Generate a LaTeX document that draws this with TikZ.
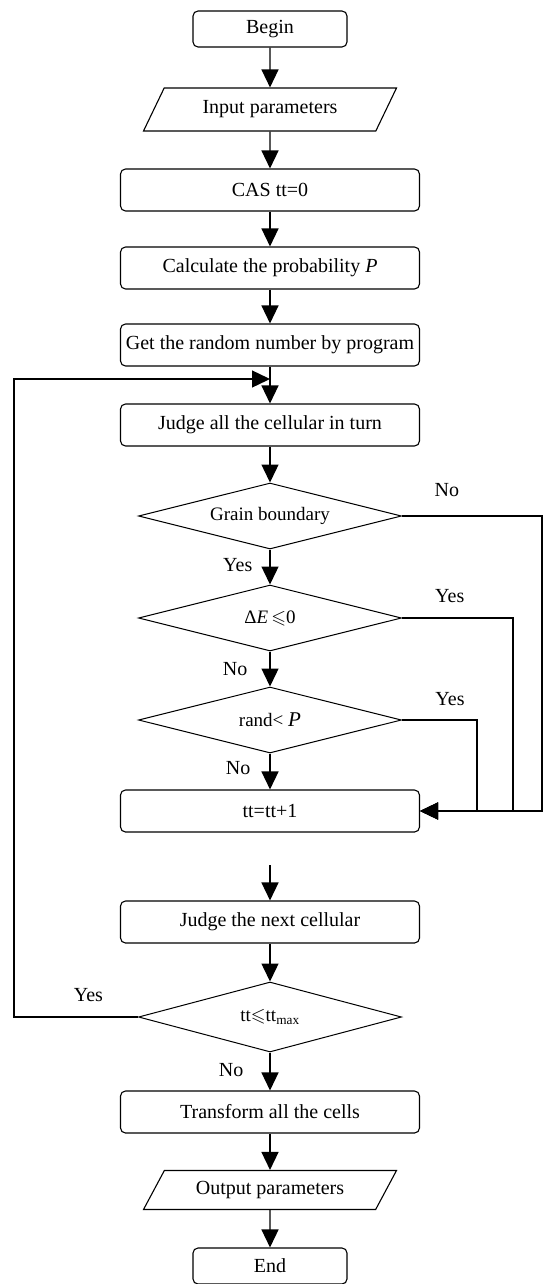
\documentclass[tikz,border=0pt]{standalone}
\usepackage{fontspec}
\setmainfont{Liberation Serif}
\usepackage{amssymb}
\usetikzlibrary{shapes.geometric,arrows.meta,positioning}

\begin{document}
\begin{tikzpicture}
    [
      font=\fontsize{20pt}{22pt}\selectfont,
      >={Triangle[length=18pt,width=17pt]},
      term/.style=
      {
        rounded corners=5pt,
        minimum width=154pt,
        minimum height=36pt,
        inner sep=0pt,
        line width=1.1pt,
        draw,
      },
      proc/.style=
      {
        rounded corners=5pt,
        minimum width=299pt,
        minimum height=42pt,
        inner sep=0pt,
        line width=1.1pt,
        draw,
      },
      io/.style=
      {
        trapezium,
        trapezium left angle=40,
        trapezium right angle=140,
        trapezium stretches body=true,
        minimum width=253pt,
        minimum height=43pt,
        inner sep=0pt,
        line width=1.1pt,
        draw,
      },
      test/.style=
      {
        diamond,
        aspect=4,
        minimum width=263pt,
        minimum height=66pt,
        inner sep=0pt,
        line width=1pt,
        font=\fontsize{19pt}{22pt}\selectfont,
        draw,
      },
      lbl/.style=
      {
        inner sep=0pt,
      },
      flow/.style=
      {
        ->,
        line width=1.4pt,
      }
    ]
    \useasboundingbox (0,0) rectangle (543pt,-1284pt);

    % main column
    \node[term] (start) at (270pt,-29pt) {Begin};
    \node[io, below of=start, node distance=80.5pt] (input) {Input parameters};
    \node[proc, below of=input, node distance=80.5pt] (cas) {CAS tt=0};
    \node[proc, below of=cas, node distance=78pt] (calc)
    {
      Calculate the probability \textit{P}
    };
    \node[proc, below of=calc, node distance=77pt] (rnd)
    {
      Get the random number by program
    };
    \node[proc, below of=rnd, node distance=80pt] (judge)
    {
      Judge all the cellular in turn
    };
    \node[test, below of=judge, node distance=91pt] (grain) {Grain boundary};
    \node[test, below of=grain, node distance=102pt] (dE)
    {
      Δ\textit{E}\,$\leqslant$0
    };
    \node[test, below of=dE, node distance=102pt] (randp)
    {
      rand<~{\fontsize{21pt}{22pt}\selectfont\textit{P}}
    };
    \node[proc, below of=randp, node distance=91pt] (tt) {tt=tt+1};
    \node[proc, below of=tt, node distance=111pt] (next)
    {
      Judge the next cellular
    };
    \node[test, below of=next, node distance=95pt, minimum height=70pt] (ttmax)
    {
      tt$\leqslant$tt\textsubscript{max}
    };
    \node[proc, below of=ttmax, node distance=95pt] (transform)
    {
      Transform all the cells
    };
    \node[io, below of=transform, node distance=78pt, minimum height=39pt]
      (output) {Output parameters};
    \node[term, below of=output, node distance=76pt] (stop) {End};

    % free ends
    \coordinate[below of=rnd, node distance=34pt] (merge);
    \coordinate[below of=tt, node distance=54pt] (gap);

    % straight arrows
    \foreach \a/\b in {start/input, input/cas, cas/calc, calc/rnd, rnd/judge,
      judge/grain, gap/next, next/ttmax, transform/output, output/stop}
      \draw[flow] (\a) -- (\b);

    % branches
    \draw[flow] (grain) -- node[lbl, left=17pt, pos=0.45] {Yes} (dE);
    \draw[flow] (dE) -- node[lbl, left=22pt] {No} (randp);
    \draw[flow] (randp) -- node[lbl, left=19pt, pos=0.4] {No} (tt);
    \draw[flow] (ttmax) -- node[lbl, left=26pt, pos=0.45] {No} (transform);

    \draw[flow] (grain.east) -- node[lbl, above=19pt, pos=0.32] {No}
      ++(140pt,0) |- (tt.east);
    \draw[flow] (dE.east) -- node[lbl, above=15pt, pos=0.43] {Yes}
      ++(111pt,0) |- (tt.east);
    \draw[flow] (randp.east) -- node[lbl, above=14pt, pos=0.64] {Yes}
      ++(75pt,0) |- (tt.east);

    % back to the loop
    \draw[flow] (ttmax.west) -- node[lbl, above=15pt, pos=0.4] {Yes}
      ++(-124pt,0) |- (merge);
\end{tikzpicture}
\end{document}
